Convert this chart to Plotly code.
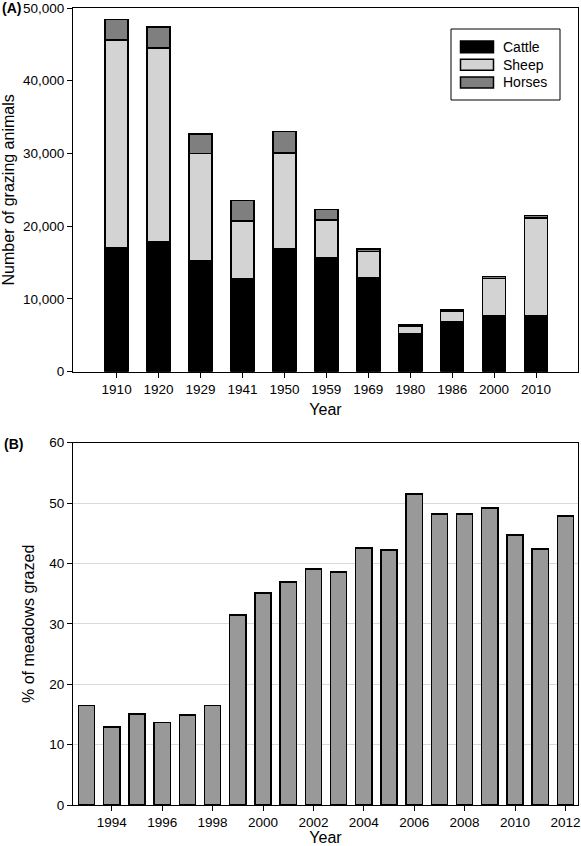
import plotly.graph_objects as go

# ---- Panel A data ----
census_years = ["1910", "1920", "1929", "1941", "1950", "1959", "1969", "1980", "1986", "2000", "2010"]
cattle = [17000, 17800, 15300, 12800, 16900, 15600, 12850, 5200, 6900, 7700, 7700]
sheep = [28600, 26700, 14700, 7900, 13200, 5250, 3650, 1000, 1400, 5100, 13400]
horses = [2800, 2900, 2700, 2850, 2900, 1450, 350, 200, 200, 300, 400]

# ---- Panel B data ----
survey_years = list(range(1993, 2013))
pct_grazed = [16.5, 12.9, 15.1, 13.7, 14.9, 16.5, 31.5, 35.1, 36.9, 39.1, 38.6,
              42.6, 42.2, 51.5, 48.2, 48.2, 49.2, 44.7, 42.4, 47.9]

series_names = ["Cattle", "Sheep", "Horses"]
series_colors = ["#000000", "#d3d3d3", "#7f7f7f"]

W, H = 581, 846
FONT = "Liberation Sans, Arial, sans-serif"


def px(x):
    return x / W


def py(y):
    return 1 - y / H


fig = go.Figure()

for name, vals, col in zip(series_names, [cattle, sheep, horses], series_colors):
    fig.add_trace(go.Bar(
        x=census_years, y=vals, name=name,
        marker=dict(color=col, line=dict(color="#000000", width=1.5)),
        width=0.55, xaxis="x", yaxis="y", showlegend=False,
    ))

fig.add_trace(go.Bar(
    x=survey_years, y=pct_grazed, name="% of meadows grazed",
    marker=dict(color="#999999", line=dict(color="#000000", width=1.5)),
    width=0.64, xaxis="x2", yaxis="y2", showlegend=False,
))

axis_common = dict(
    showline=True, linecolor="#000000", linewidth=1, mirror=True,
    ticks="outside", ticklen=5, tickwidth=1, tickcolor="#000000",
    tickfont=dict(family=FONT, size=13.5, color="#000000"),
    automargin=False, zeroline=False,
)

fig.update_layout(
    width=W, height=H,
    margin=dict(l=0, r=0, t=0, b=0),
    paper_bgcolor="white", plot_bgcolor="white",
    barmode="stack",
    font=dict(family=FONT, color="#000000"),
    xaxis=dict(axis_common, domain=[px(73), px(578)], anchor="y",
               type="category", range=[-1.04, 11.0], showgrid=False,
               title=dict(text="Year", font=dict(size=16), standoff=7)),
    yaxis=dict(axis_common, domain=[py(371.7), py(8)], anchor="x",
               range=[0, 50000], tickvals=[0, 10000, 20000, 30000, 40000, 50000],
               tickformat=",d", showgrid=False,
               title=dict(text="Number of grazing animals", font=dict(size=16), standoff=7)),
    xaxis2=dict(axis_common, domain=[px(73), px(578)], anchor="y2",
                range=[1992.46, 2012.5], tickvals=list(range(1994, 2013, 2)),
                showgrid=False,
                title=dict(text="Year", font=dict(size=16), standoff=10)),
    yaxis2=dict(axis_common, domain=[py(805), py(442.7)], anchor="x2",
                range=[0, 60], tickvals=[0, 10, 20, 30, 40, 50, 60],
                showgrid=True, gridcolor="#d9d9d9", gridwidth=1,
                title=dict(text="% of meadows grazed", font=dict(size=16), standoff=10)),
)

# Panel labels
fig.add_annotation(text="<b>(A)</b>", x=px(0), y=py(8), xref="paper", yref="paper",
                   xanchor="left", yanchor="middle", showarrow=False,
                   font=dict(family=FONT, size=14, color="#000000"))
fig.add_annotation(text="<b>(B)</b>", x=px(2), y=py(444), xref="paper", yref="paper",
                   xanchor="left", yanchor="middle", showarrow=False,
                   font=dict(family=FONT, size=14, color="#000000"))

# Custom legend (wide swatches as in the reference)
fig.add_shape(type="rect", xref="paper", yref="paper",
              x0=px(451), x1=px(560), y0=py(100), y1=py(29),
              line=dict(color="#000000", width=1), fillcolor="white", layer="above")
rows = [(41, 52.7), (59.3, 70.3), (77, 88)]
for (t, b), name, col in zip(rows, series_names, series_colors):
    fig.add_shape(type="rect", xref="paper", yref="paper",
                  x0=px(460.5), x1=px(493.5), y0=py(b), y1=py(t),
                  line=dict(color="#000000", width=1.5), fillcolor=col, layer="above")
    fig.add_annotation(text=name, x=px(501), y=py((t + b) / 2), xref="paper", yref="paper",
                       xanchor="left", yanchor="middle", showarrow=False,
                       font=dict(family=FONT, size=14, color="#000000"))

fig.write_html(
    "out.html",
    config={"displayModeBar": False},
    post_script="document.body.style.margin='0';document.body.style.overflow='hidden';",
)
